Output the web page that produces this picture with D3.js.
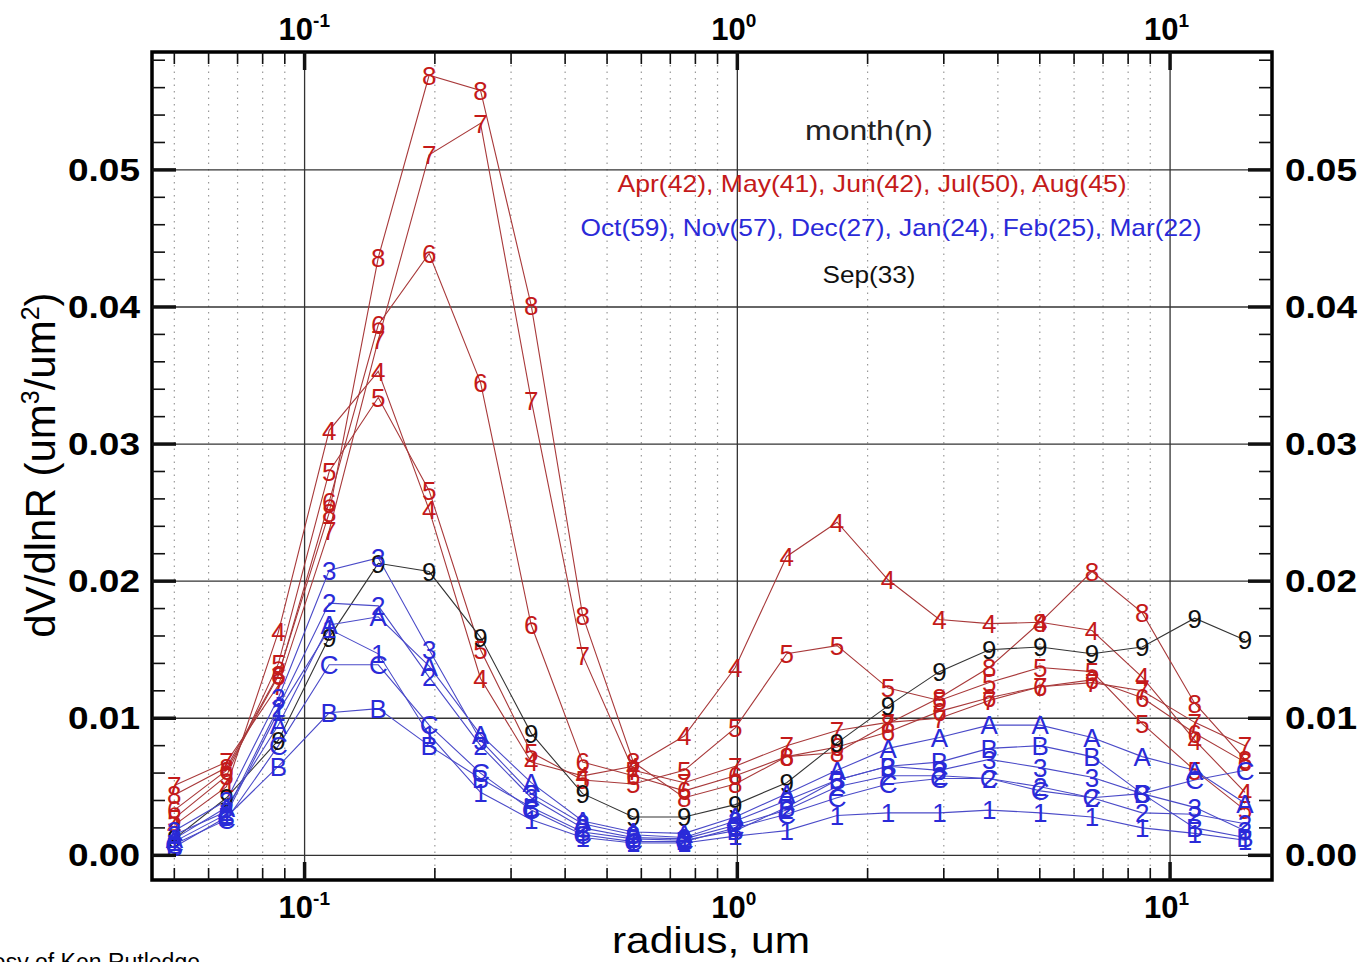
<!DOCTYPE html>
<html>
<head>
<meta charset="utf-8">
<script src="https://cdn.jsdelivr.net/npm/d3@7"></script>
<style>
  body { margin: 0; background: #fff; }
  svg { display: block; }
  text { font-family: "Liberation Sans", Arial, sans-serif; }
</style>
</head>
<body>
<svg id="chart" width="1361" height="962"></svg>
<script>
// radius bins (um)
var radius = [0.050, 0.066, 0.087, 0.114, 0.148, 0.194, 0.255, 0.334, 0.439, 0.575, 0.754,
              0.989, 1.30, 1.70, 2.23, 2.93, 3.82, 5.01, 6.60, 8.62, 11.4, 14.9];

// dV/dlnR per month, symbol in comment
var apr = [0.0022, 0.0050, 0.0163, 0.0310, 0.0353, 0.0252, 0.0129, 0.0068, 0.0058, 0.0065, 0.0087,
           0.0137, 0.0218, 0.0243, 0.0201, 0.0172, 0.0169, 0.0170, 0.0164, 0.0130, 0.0084, 0.0046]; // 4
var may = [0.0027, 0.0058, 0.0140, 0.0280, 0.0334, 0.0266, 0.0150, 0.0075, 0.0055, 0.0052, 0.0062,
           0.0093, 0.0147, 0.0153, 0.0122, 0.0113, 0.0126, 0.0137, 0.0134, 0.0096, 0.0062, 0.0033]; // 5
var jun = [0.0033, 0.0062, 0.0131, 0.0258, 0.0387, 0.0439, 0.0345, 0.0168, 0.0068, 0.0058, 0.0047,
           0.0058, 0.0072, 0.0079, 0.0090, 0.0105, 0.0115, 0.0123, 0.0128, 0.0115, 0.0089, 0.0068]; // 6
var jul = [0.0051, 0.0068, 0.0124, 0.0237, 0.0376, 0.0511, 0.0534, 0.0332, 0.0146, 0.0062, 0.0053,
           0.0065, 0.0080, 0.0091, 0.0097, 0.0100, 0.0113, 0.0123, 0.0126, 0.0120, 0.0097, 0.0080]; // 7
var aug = [0.0044, 0.0064, 0.0132, 0.0250, 0.0436, 0.0569, 0.0558, 0.0401, 0.0175, 0.0068, 0.0042,
           0.0052, 0.0072, 0.0075, 0.0096, 0.0115, 0.0137, 0.0170, 0.0207, 0.0177, 0.0111, 0.0070]; // 8
var sep = [0.0012, 0.0042, 0.0084, 0.0159, 0.0213, 0.0207, 0.0159, 0.0089, 0.0045, 0.0028, 0.0028,
           0.0037, 0.0053, 0.0082, 0.0109, 0.0134, 0.0150, 0.0152, 0.0147, 0.0152, 0.0173, 0.0157]; // 9
var oct = [0.0012, 0.0035, 0.0095, 0.0168, 0.0174, 0.0138, 0.0088, 0.0053, 0.0025, 0.0017, 0.0016,
           0.0028, 0.0045, 0.0062, 0.0078, 0.0086, 0.0095, 0.0095, 0.0086, 0.0072, 0.0062, 0.0038]; // A
var nov = [0.0006, 0.0028, 0.0065, 0.0104, 0.0107, 0.0080, 0.0056, 0.0035, 0.0017, 0.0012, 0.0011,
           0.0018, 0.0035, 0.0055, 0.0065, 0.0068, 0.0078, 0.0080, 0.0072, 0.0045, 0.0020, 0.0013]; // B
var dec = [0.0008, 0.0026, 0.0080, 0.0139, 0.0139, 0.0095, 0.0060, 0.0033, 0.0015, 0.0010, 0.0010,
           0.0020, 0.0030, 0.0042, 0.0052, 0.0056, 0.0056, 0.0047, 0.0042, 0.0045, 0.0055, 0.0062]; // C
var jan = [0.0010, 0.0030, 0.0105, 0.0165, 0.0147, 0.0088, 0.0046, 0.0026, 0.0013, 0.0009, 0.0009,
           0.0014, 0.0018, 0.0029, 0.0031, 0.0031, 0.0033, 0.0031, 0.0028, 0.0020, 0.0016, 0.0011]; // 1
var feb = [0.0015, 0.0032, 0.0108, 0.0184, 0.0182, 0.0130, 0.0080, 0.0042, 0.0020, 0.0013, 0.0012,
           0.0022, 0.0033, 0.0050, 0.0058, 0.0058, 0.0056, 0.0050, 0.0042, 0.0031, 0.0030, 0.0023]; // 2
var mar = [0.0018, 0.0040, 0.0115, 0.0208, 0.0217, 0.0150, 0.0084, 0.0045, 0.0023, 0.0015, 0.0013,
           0.0025, 0.0040, 0.0055, 0.0065, 0.0062, 0.0070, 0.0064, 0.0057, 0.0045, 0.0035, 0.0018]; // 3

var symbols = ["4", "5", "6", "7", "8", "9", "A", "B", "C", "1", "2", "3"];
var groups  = ["warm", "warm", "warm", "warm", "warm", "sep", "cold", "cold", "cold", "cold", "cold", "cold"];
var legendWarm = "Apr(42), May(41), Jun(42), Jul(50), Aug(45)";
var legendCold = "Oct(59), Nov(57), Dec(27), Jan(24), Feb(25), Mar(22)";
var legendSep = "Sep(33)";
var yTicks = [0.00, 0.01, 0.02, 0.03, 0.04, 0.05];
var xDecades = [0.1, 1, 10];
var xDecadeExp = ["-1", "0", "1"];

var colors = {warm: "#c41a1a", cold: "#2a2ad8", sep: "#111"};
var lineColors = {warm: "#a8393a", cold: "#4a4ac8", sep: "#333"};

var allSeries = [apr, may, jun, jul, aug, sep, oct, nov, dec, jan, feb, mar];

drawChart();

function drawChart() {
    var svg = d3.select("#chart"),
        pL = 152, pR = 1272, pT = 52, pB = 880;

    var x = d3.scaleLog().domain([0.0444, 17.2]).range([pL, pR]),
        y = d3.scaleLinear().domain([-0.0018, 0.0586]).range([pB, pT]);

    // minor x positions
    var xMinor = [];
    [0.01, 0.1, 1, 10].forEach(function(d) {
        for (var k = 1; k < 10; k++) {
            var v = +(d * k).toPrecision(3);
            if (v > 0.0444 && v < 17.2) xMinor.push(v);
        }
    });

    var grid = svg.append("g");
    // vertical dotted grid
    grid.selectAll(".vdot")
        .data(xMinor.filter(function(v) { return xDecades.indexOf(v) < 0; }))
        .enter().append("line")
        .attr("x1", function(d) { return x(d); })
        .attr("x2", function(d) { return x(d); })
        .attr("y1", pT).attr("y2", pB)
        .attr("stroke", "#999")
        .attr("stroke-width", 1.2)
        .attr("stroke-dasharray", "1.5,5");
    // vertical solid at decades
    grid.selectAll(".vdec")
        .data(xDecades)
        .enter().append("line")
        .attr("x1", function(d) { return x(d); })
        .attr("x2", function(d) { return x(d); })
        .attr("y1", pT).attr("y2", pB)
        .attr("stroke", "#333")
        .attr("stroke-width", 1.3);
    // horizontal solid
    grid.selectAll(".hgrid")
        .data(yTicks)
        .enter().append("line")
        .attr("x1", pL).attr("x2", pR)
        .attr("y1", function(d) { return y(d); })
        .attr("y2", function(d) { return y(d); })
        .attr("stroke", "#333")
        .attr("stroke-width", 1.3);

    // series lines
    var line = d3.line()
        .x(function(d, i) { return x(radius[i]); })
        .y(function(d) { return y(d); });

    var plot = svg.append("g");
    allSeries.forEach(function(s, k) {
        plot.append("path")
            .datum(s)
            .attr("fill", "none")
            .attr("stroke", lineColors[groups[k]])
            .attr("stroke-width", 1.1)
            .attr("d", line);
    });
    allSeries.forEach(function(s, k) {
        plot.selectAll(".m" + k)
            .data(s)
            .enter().append("text")
            .attr("x", function(d, i) { return x(radius[i]); })
            .attr("y", function(d) { return y(d); })
            .attr("dy", "0.36em")
            .attr("text-anchor", "middle")
            .attr("font-size", 26)
            .attr("fill", colors[groups[k]])
            .text(symbols[k]);
    });

    // frame
    svg.append("rect")
        .attr("x", pL).attr("y", pT)
        .attr("width", pR - pL).attr("height", pB - pT)
        .attr("fill", "none")
        .attr("stroke", "#000")
        .attr("stroke-width", 3.5);

    // ticks on all four sides
    var yMinor = d3.range(0, 0.0581, 0.002);
    var ticks = svg.append("g").attr("stroke", "#111");
    yMinor.forEach(function(v) {
        var major = Math.abs(v / 0.01 - Math.round(v / 0.01)) < 1e-6;
        var len = major ? 24 : 13;
        ticks.append("line").attr("x1", pL).attr("x2", pL + len)
            .attr("y1", y(v)).attr("y2", y(v)).attr("stroke-width", major ? 3.5 : 1.6);
        ticks.append("line").attr("x1", pR).attr("x2", pR - len)
            .attr("y1", y(v)).attr("y2", y(v)).attr("stroke-width", major ? 3.5 : 1.6);
    });
    xMinor.forEach(function(v) {
        var major = xDecades.indexOf(v) >= 0;
        var len = major ? 18 : 12;
        ticks.append("line").attr("x1", x(v)).attr("x2", x(v))
            .attr("y1", pB).attr("y2", pB - len).attr("stroke-width", major ? 3.5 : 1.6);
        ticks.append("line").attr("x1", x(v)).attr("x2", x(v))
            .attr("y1", pT).attr("y2", pT + len).attr("stroke-width", major ? 3.5 : 1.6);
    });

    // y tick labels
    var fmt = d3.format(".2f");
    [[140, "end"], [1285, "start"]].forEach(function(p) {
        svg.append("g").selectAll("text")
            .data(yTicks)
            .enter().append("text")
            .attr("x", p[0])
            .attr("y", function(d) { return y(d) + 11; })
            .attr("text-anchor", p[1])
            .attr("font-size", 31)
            .attr("font-weight", "bold")
            .attr("textLength", 72)
            .attr("lengthAdjust", "spacingAndGlyphs")
            .text(fmt);
    });

    // x decade labels, top and bottom
    [40, 918].forEach(function(yy) {
        xDecades.forEach(function(d, i) {
            var t = svg.append("text")
                .attr("x", x(d) - 26)
                .attr("y", yy)
                .attr("font-size", 31)
                .attr("font-weight", "bold");
            t.append("tspan").text("10");
            t.append("tspan").attr("font-size", 19).attr("dy", -13).text(xDecadeExp[i]);
        });
    });

    // axis titles
    svg.append("text")
        .attr("x", 711).attr("y", 953)
        .attr("text-anchor", "middle")
        .attr("font-size", 36)
        .attr("textLength", 198)
        .attr("lengthAdjust", "spacingAndGlyphs")
        .text("radius, um");

    var yt = svg.append("text")
        .attr("transform", "translate(55,465) rotate(-90)")
        .attr("text-anchor", "middle")
        .attr("font-size", 42);
    yt.append("tspan").text("dV/dlnR (um");
    yt.append("tspan").attr("font-size", 25).attr("dy", -16).text("3");
    yt.append("tspan").attr("dy", 16).text("/um");
    yt.append("tspan").attr("font-size", 25).attr("dy", -16).text("2");
    yt.append("tspan").attr("dy", 16).text(")");

    // legend text block
    var leg = [
        {t: "month(n)", c: "#222", cx: 869, y: 140, w: 128, fs: 28},
        {t: legendWarm, c: colors.warm, cx: 872, y: 192, w: 509, fs: 24},
        {t: legendCold, c: colors.cold, cx: 891, y: 236, w: 621, fs: 24},
        {t: legendSep, c: "#111", cx: 869, y: 283, w: 93, fs: 24}
    ];
    svg.append("g").selectAll("text")
        .data(leg)
        .enter().append("text")
        .attr("x", function(d) { return d.cx; })
        .attr("y", function(d) { return d.y; })
        .attr("text-anchor", "middle")
        .attr("font-size", function(d) { return d.fs; })
        .attr("fill", function(d) { return d.c; })
        .attr("textLength", function(d) { return d.w; })
        .attr("lengthAdjust", "spacingAndGlyphs")
        .text(function(d) { return d.t; });

    // credit, cut by page edge
    svg.append("text")
        .attr("x", 200).attr("y", 970)
        .attr("text-anchor", "end")
        .attr("font-size", 23)
        .text("Courtesy of Ken Rutledge");
}
</script>
</body>
</html>
